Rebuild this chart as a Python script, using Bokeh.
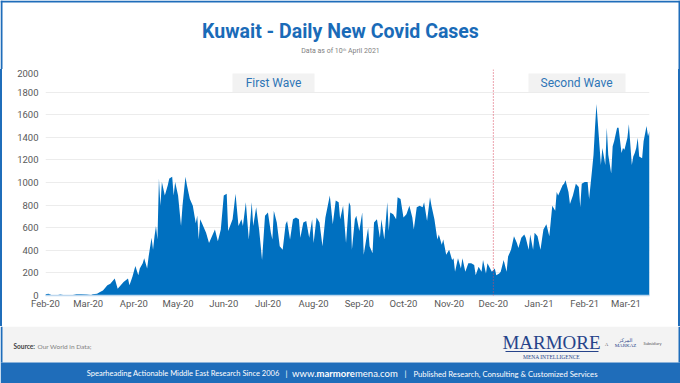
from datetime import datetime, timedelta
from bokeh.plotting import figure
from bokeh.layouts import column, row
from bokeh.models import (Range1d, FixedTicker, DatetimeTickFormatter, Label,
                          BoxAnnotation, Span, Div)
from bokeh.embed import file_html
from bokeh.resources import INLINE

# ---------------- data ----------------
start_date = "2020-02-24"
last_day = 410  # days after start_date (data as of ~10 April 2021)

day_offset = [
    0, 2, 4, 7, 10, 13, 17, 21, 24, 28, 31, 32, 35, 37, 39,
    42, 44, 47, 49, 53, 56, 57, 59, 61, 63, 64, 66, 67, 69, 70, 72, 73, 74, 75, 76, 77, 78, 79, 81, 83, 84, 86, 87, 88, 90, 92,
    93, 95, 96, 98, 100, 102, 103, 104, 105, 106, 109, 111, 113, 115, 117, 119, 121, 123, 124, 127, 129, 131, 133, 134, 136, 138, 140, 141, 143, 145, 147, 149, 151, 153,
    154, 155, 157, 159, 161, 163, 164, 166, 168, 170, 172, 173, 175, 177, 179, 181, 182, 184, 186, 188, 190, 193, 195, 197, 199, 200, 202, 204, 206, 207, 208, 210, 211, 213, 215,
    216, 219, 220, 222, 223, 225, 227, 228, 230, 232, 233, 234, 236, 238, 239, 241, 243, 245, 247, 249, 250, 252, 254, 256, 257, 259, 261, 262, 264, 266, 267, 269, 270, 272, 274, 276,
    277, 278, 280, 282, 283, 285, 287, 289, 291, 292, 294, 296, 297, 299, 300, 303, 305, 306, 308, 309, 311, 313, 314, 316, 318, 320, 321, 323, 325, 326, 328, 329, 331, 332, 334, 336, 337,
    338, 340, 342, 343, 344, 346, 347, 348, 351, 352, 353, 355, 356, 358, 360, 362, 363, 364, 366, 368, 369, 371, 372, 373, 374, 375, 377, 378, 380, 381, 382, 384, 385, 386, 388, 389, 391, 392, 393, 395, 396, 398, 399, 400,
    401, 402, 403, 405, 406, 408, 409, 410,
]

new_cases = [
    12, 15, 5, 0, 8, 3, 0, 10, 12, 8, 5, 12, 15, 30, 45,
    90, 105, 150, 60, 120, 150, 90, 165, 260, 180, 240, 285, 330, 240, 345, 510, 405, 525, 615, 495, 1035, 795, 1005, 885, 975, 1035, 1050, 885, 1005, 885, 615,
    795, 1050, 975, 855, 795, 640, 705, 495, 675, 645, 555, 465, 525, 585, 480, 585, 885, 900, 570, 675, 900, 615, 675, 615, 825, 495, 825, 615, 780, 585, 315, 705, 735, 555,
    495, 750, 645, 435, 405, 630, 660, 495, 675, 690, 675, 510, 645, 660, 510, 675, 465, 690, 645, 435, 690, 885, 630, 840, 825, 675, 795, 465, 825, 795, 405, 675, 705, 570, 735,
    360, 600, 435, 375, 645, 675, 510, 675, 495, 825, 570, 735, 720, 675, 870, 855, 690, 720, 795, 690, 585, 780, 795, 780, 825, 660, 870, 795, 675, 495, 540, 450, 495, 360, 405, 315,
    330, 210, 330, 240, 330, 210, 285, 285, 270, 180, 255, 210, 315, 195, 285, 210, 240, 180, 195, 210, 315, 210, 345, 405, 525, 465, 420, 510, 540, 510, 405, 540, 405, 555, 525, 405, 495,
    585, 630, 525, 660, 795, 750, 915, 885, 975, 990, 1020, 915, 810, 885, 990, 960, 780, 990, 1005, 1005, 855, 1110, 1245, 1485, 1695, 1515, 1155, 1305, 1155, 1485, 1245, 1080, 1320, 1365, 1485, 1485, 1260, 1305, 1290, 1395, 1515, 1155, 1230, 1260,
    1305, 1395, 1230, 1215, 1365, 1500, 1410, 1455,
]

month_ticks = ["2020-02-24", "2020-03-24", "2020-04-24", "2020-05-24", "2020-06-24",
               "2020-07-24", "2020-08-24", "2020-09-24", "2020-10-24", "2020-11-24",
               "2020-12-24", "2021-01-24", "2021-02-24", "2021-03-24"]
y_ticks = [0, 200, 400, 600, 800, 1000, 1200, 1400, 1600, 1800, 2000]
second_wave_start = "2020-12-24"
wave_labels = ["First Wave", "Second Wave"]

title_text = "Kuwait - Daily New Covid Cases"
subtitle_text = "Data as of 10\u1d57\u02b0 April 2021"
source_label = "Source:"
source_text = "Our World in Data;"

# ---------------- helpers ----------------
EPOCH = datetime(1970, 1, 1)


def to_ms(dt):
    return (dt - EPOCH).total_seconds() * 1000.0


t0 = datetime.strptime(start_date, "%Y-%m-%d")
dates_ms = [to_ms(t0 + timedelta(days=d)) for d in day_offset]
x_start = to_ms(t0)
x_end = to_ms(t0 + timedelta(days=last_day))
tick_ms = [to_ms(datetime.strptime(s, "%Y-%m-%d")) for s in month_ticks]
divider_ms = to_ms(datetime.strptime(second_wave_start, "%Y-%m-%d"))

W = 680
TOP_PAD = 4                               # space Bokeh keeps above the frame
HEAD_H = 73 - TOP_PAD
FOOT_H = 57
MID_H = 383 - HEAD_H - FOOT_H
EDGE = 2
CW = W - 2 * EDGE                        # chart figure width
FL, FR, FT, FB = 45, 649, 73, 295        # frame box in page pixels

BLUE = "#0070C0"
TITLE_BLUE = "#1a6bb8"
FOOT_BLUE = "#1f6dba"
NAVY = "#26438a"


def X(px):  # page x pixel -> chart data x (ms)
    return x_start + (px - FL) / (FR - FL) * (x_end - x_start)


def Y(py):  # page y pixel -> chart data y
    return (FB - py) / (FB - FT) * 2000.0


def canvas_fig(h):
    f = figure(width=W, height=h, x_range=Range1d(0, W), y_range=Range1d(h, 0),
               x_axis_location=None, y_axis_location=None, title=None,
               output_backend="svg", toolbar_location=None,
               min_border=0, min_border_left=0, min_border_right=0,
               min_border_top=0, min_border_bottom=0)
    f.grid.visible = False
    f.outline_line_color = None
    f.background_fill_color = "white"
    f.border_fill_color = "white"
    return f


def box(f, l, r, t, b, color, **kw):
    f.add_layout(BoxAnnotation(left=l, right=r, top=t, bottom=b, fill_color=color,
                               fill_alpha=1, line_color=None, **kw))


def lab(f, x, y, text, size, color, align="center", font="Roboto", style="normal"):
    f.add_layout(Label(x=x, y=y, text=text, text_align=align, text_baseline="middle",
                       text_font=font, text_font_size=size, text_color=color,
                       text_font_style=style))


# ---------------- header ----------------
head = canvas_fig(HEAD_H)
box(head, 0, W, 0, EDGE, FOOT_BLUE)
box(head, 0, EDGE, 0, HEAD_H, FOOT_BLUE)
box(head, W - EDGE, W, 0, HEAD_H, FOOT_BLUE)
lab(head, 340, 31, title_text, "19.5px", TITLE_BLUE, style="bold")
lab(head, 340, 50, subtitle_text, "7px", "#7f7f7f")

# ---------------- chart ----------------
p = figure(width=CW, height=MID_H, x_axis_type="datetime",
           x_range=Range1d(x_start, x_end), y_range=Range1d(0, 2000),
           output_backend="svg", toolbar_location=None, title=None,
           min_border_left=FL - EDGE, min_border_right=W - EDGE - FR,
           min_border_top=0, min_border_bottom=HEAD_H + MID_H - FB)
p.outline_line_color = None
p.background_fill_color = "white"
p.border_fill_color = "white"

p.add_layout(BoxAnnotation(left=X(232), right=X(314), top=Y(77), bottom=Y(95),
                           fill_color="#f2f2f2", fill_alpha=1, line_color=None,
                           level="underlay"))
p.add_layout(BoxAnnotation(left=X(528), right=X(625), top=Y(77), bottom=Y(95),
                           fill_color="#f2f2f2", fill_alpha=1, line_color=None,
                           level="underlay"))

p.varea(x=dates_ms, y1=0, y2=new_cases, fill_color=BLUE)

p.add_layout(Span(location=divider_ms, dimension="height", line_color="#d9485c",
                  line_dash="1 2", line_width=1))

p.xaxis.ticker = FixedTicker(ticks=tick_ms)
fmt = "%b-%y"
p.xaxis.formatter = DatetimeTickFormatter(
    microseconds=fmt, milliseconds=fmt, seconds=fmt, minsec=fmt, minutes=fmt,
    hourmin=fmt, hours=fmt, days=fmt, months=fmt, years=fmt)
p.yaxis.ticker = FixedTicker(ticks=y_ticks)
for ax in (p.xaxis, p.yaxis):
    ax.major_tick_line_color = None
    ax.minor_tick_line_color = None
    ax.major_tick_out = 0
    ax.major_tick_in = 0
    ax.minor_tick_out = 0
    ax.minor_tick_in = 0
    ax.major_label_text_font = "Roboto"
    ax.major_label_text_font_size = "9.5px"
    ax.major_label_text_color = "#595959"
p.yaxis.axis_line_color = None
p.yaxis.major_label_standoff = 7
p.xaxis.axis_line_color = "#bdd7ee"
p.xaxis.axis_line_width = 1.5
p.xaxis.major_label_standoff = 2
p.xgrid.grid_line_color = None
p.ygrid.grid_line_color = "#ececec"

p.add_layout(Label(x=X(273), y=Y(86), text=wave_labels[0], text_align="center",
                   text_baseline="middle", text_font="Roboto",
                   text_font_size="12px", text_color="#2e75b6"))
p.add_layout(Label(x=X(576), y=Y(86), text=wave_labels[1], text_align="center",
                   text_baseline="middle", text_font="Roboto",
                   text_font_size="12px", text_color="#2e75b6"))

left_edge = Div(width=EDGE, height=MID_H, margin=(0, 0, 0, 0),
                styles={"background-color": FOOT_BLUE})
right_edge = Div(width=EDGE, height=MID_H, margin=(0, 0, 0, 0),
                 styles={"background-color": FOOT_BLUE})

# ---------------- footer ----------------
foot = canvas_fig(FOOT_H)
box(foot, EDGE, W - EDGE, 0, 36, "#f3f3f3")
box(foot, 0, EDGE, 0, 36, FOOT_BLUE)
box(foot, W - EDGE, W, 0, 36, FOOT_BLUE)
box(foot, 0, W, 36, FOOT_H, FOOT_BLUE)

lab(foot, 13, 20, source_label, "6.5px", "#404040", align="left", font="Lato", style="bold")
lab(foot, 37, 20, source_text, "6.5px", "#808080", align="left", font="Lato")

lab(foot, 551, 16, "MARMORE", "19px", NAVY, font="Liberation Serif")
box(foot, 505, 598, 24.5, 25.5, NAVY)
lab(foot, 551, 30, "MENA INTELLIGENCE", "5.5px", NAVY, font="Liberation Serif")
lab(foot, 606, 18, "A", "4.5px", "#555555", font="Liberation Serif")
lab(foot, 625, 13, "\u0627\u0644\u0645\u0631\u0643\u0632", "5px", NAVY, font="DejaVu Sans")
lab(foot, 625, 19, "MARKAZ", "5px", NAVY, font="Liberation Serif")
lab(foot, 652, 17, "Subsidiary", "4px", "#555555", font="Lato")

FY = 47
lab(foot, 279, FY, "Spearheading Actionable Middle East Research Since 2006", "7.5px",
    "white", align="right", font="Lato")
lab(foot, 286, FY, "|", "8px", "white", font="Lato")
lab(foot, 316, FY, "www.", "9.5px", "white", align="right", font="Lato")
lab(foot, 316, FY, "marmore", "9.5px", "white", align="left", font="Lato", style="bold")
lab(foot, 354.5, FY, "mena.com", "9.5px", "white", align="left", font="Lato")
lab(foot, 405, FY, "|", "8px", "white", font="Lato")
lab(foot, 413, FY, "Published Research, Consulting & Customized Services", "7.7px",
    "white", align="left", font="Lato")

layout = column(head, row(left_edge, p, right_edge, spacing=0), foot, spacing=0)

open("out.html", "w").write(file_html(layout, INLINE))
